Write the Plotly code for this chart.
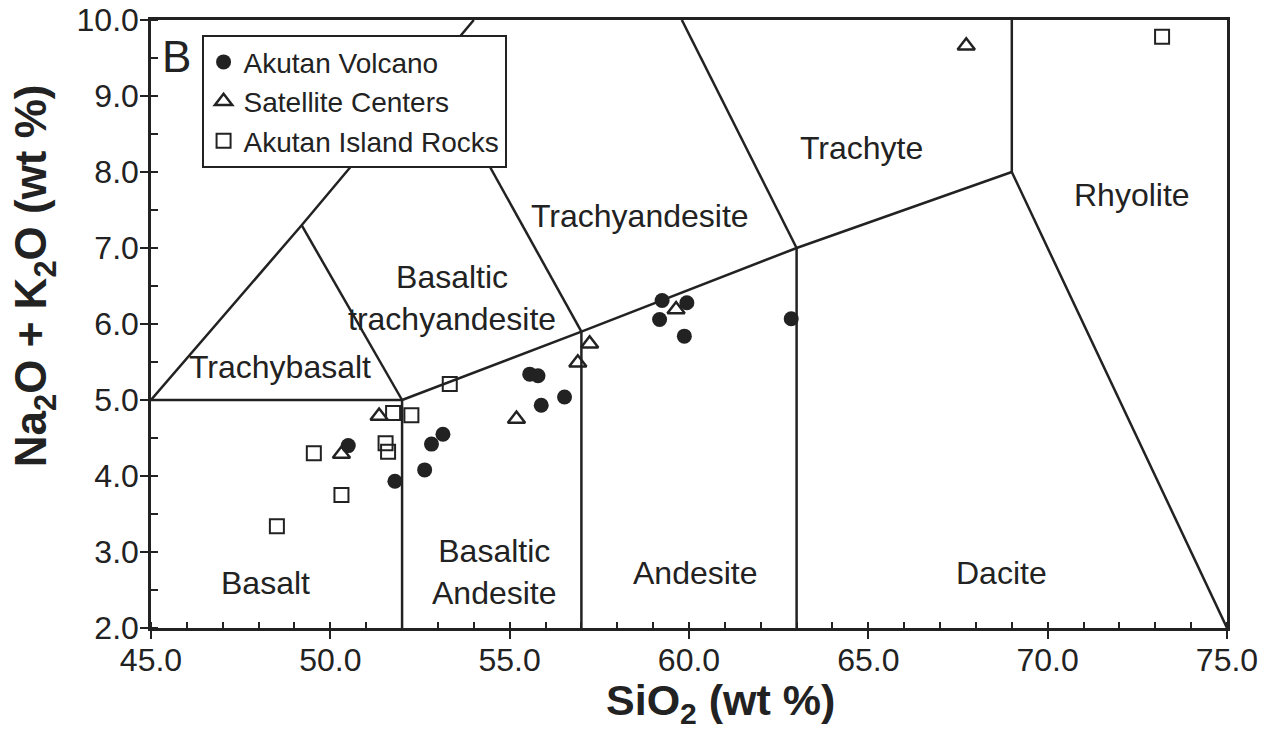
import plotly.graph_objects as go

# ---- data ----
volcano_x = [50.50, 51.80, 52.63, 52.82, 53.14, 55.56, 55.79, 55.88, 56.53, 59.18, 59.25, 59.87, 59.94, 62.85]
volcano_y = [4.40, 3.93, 4.08, 4.42, 4.55, 5.34, 5.32, 4.93, 5.04, 6.06, 6.31, 5.84, 6.28, 6.07]

satellite_x = [50.31, 51.36, 55.19, 56.90, 57.23, 59.64, 67.73]
satellite_y = [4.29, 4.79, 4.75, 5.49, 5.74, 6.19, 9.66]

island_x = [48.51, 49.54, 50.31, 51.54, 51.61, 51.75, 52.26, 53.33, 73.19]
island_y = [3.34, 4.30, 3.75, 4.43, 4.32, 4.83, 4.80, 5.21, 9.78]

# TAS field boundaries (polylines)
boundary_lines = [
    ([45, 52], [5, 5]),
    ([45, 49.2, 54.0], [5, 7.3, 10]),
    ([49.2, 52], [7.3, 5]),
    ([52, 57, 63, 69], [5, 5.9, 7, 8]),
    ([52, 52], [2, 5]),
    ([57, 57], [2, 5.9]),
    ([63, 63], [2, 7]),
    ([53, 57], [9.3, 5.9]),
    ([59.8, 63], [10, 7]),
    ([69, 69], [8, 10]),
    ([69, 75], [8, 2]),
]

field_names = ["Trachybasalt", "Basaltic<br>trachyandesite", "Trachyandesite", "Trachyte",
               "Rhyolite", "Basalt", "Basaltic<br>Andesite", "Andesite", "Dacite"]
field_x = [48.60, 53.39, 58.63, 64.82, 72.35, 48.18, 54.59, 60.19, 68.70]
field_y = [5.43, 6.34, 7.42, 8.32, 7.70, 2.59, 2.74, 2.72, 2.72]

x_range = [45, 75]
y_range = [2, 10]

FONT = "Liberation Sans, Arial, Helvetica, sans-serif"
INK = "#222222"

fig = go.Figure()

bx, by = [], []
for xs, ys in boundary_lines:
    bx += xs + [None]
    by += ys + [None]
fig.add_trace(go.Scatter(x=bx, y=by, mode="lines", line=dict(color=INK, width=2.5),
                         showlegend=False, hoverinfo="skip"))

fig.add_trace(go.Scatter(x=volcano_x, y=volcano_y, mode="markers", name="Akutan Volcano",
                         marker=dict(symbol="circle", size=15, color=INK)))
fig.add_trace(go.Scatter(x=satellite_x, y=satellite_y, mode="markers", name="Satellite Centers",
                         marker=dict(symbol="triangle-up-open", size=15, color=INK,
                                     line=dict(width=2.5, color=INK))))
fig.add_trace(go.Scatter(x=island_x, y=island_y, mode="markers", name="Akutan Island Rocks",
                         marker=dict(symbol="square-open", size=14, color=INK,
                                     line=dict(width=2, color=INK))))

for name, fx, fy in zip(field_names, field_x, field_y):
    fig.add_annotation(x=fx, y=fy, text=name, showarrow=False, xref="x", yref="y",
                       font=dict(family=FONT, size=32, color=INK), align="center")

fig.add_annotation(x=45.72, y=9.52, text="B", showarrow=False, xref="x", yref="y",
                   font=dict(family=FONT, size=44, color=INK))

# axis titles
fig.add_annotation(x=0.5297, y=-0.124, xref="paper", yref="paper", showarrow=False,
                   text="<b>SiO<sub>2</sub> (wt %)</b>", xanchor="center", yanchor="middle",
                   font=dict(family=FONT, size=43, color=INK))
fig.add_annotation(x=-0.108, y=0.58, xref="paper", yref="paper", showarrow=False,
                   text="<b>Na<sub>2</sub>O + K<sub>2</sub>O (wt %)</b>", textangle=-90,
                   xanchor="center", yanchor="middle",
                   font=dict(family=FONT, size=44, color=INK))

axis_common = dict(showgrid=False, zeroline=False, showline=True, linecolor=INK, linewidth=2.5,
                   mirror=True, ticks="outside", ticklen=8, tickwidth=2, tickcolor=INK,
                   automargin=False, ticklabeloverflow="allow",
                   tickformat=".1f", tickfont=dict(family=FONT, size=32, color=INK))

fig.update_layout(
    width=1264, height=731,
    margin=dict(l=151, r=37, t=20, b=103, autoexpand=False),
    paper_bgcolor="white", plot_bgcolor="white",
    font=dict(family=FONT, color=INK),
    xaxis=dict(range=x_range, tick0=45, dtick=5, ticklabelstandoff=-6,
               minor=dict(dtick=1, ticks="inside", ticklen=6, tickwidth=2, tickcolor=INK, showgrid=False),
               **axis_common),
    yaxis=dict(range=y_range, tick0=2, dtick=1, ticklabelstandoff=-5,
               minor=dict(dtick=0.5, ticks="inside", ticklen=7, tickwidth=2, tickcolor=INK, showgrid=False),
               **axis_common),
    xaxis2=dict(range=x_range, overlaying="x", anchor="y", side="bottom", tick0=45, dtick=5,
                ticks="inside", ticklen=8, tickwidth=2, tickcolor=INK, showticklabels=False,
                showline=False, showgrid=False, zeroline=False, automargin=False),
    yaxis2=dict(range=y_range, overlaying="y", anchor="x", side="left", tick0=2, dtick=1,
                ticks="inside", ticklen=8, tickwidth=2, tickcolor=INK, showticklabels=False,
                showline=False, showgrid=False, zeroline=False, automargin=False),
    legend=dict(x=0.047, y=0.975, xanchor="left", yanchor="top",
                bgcolor="white", bordercolor=INK, borderwidth=2,
                font=dict(family=FONT, size=28, color=INK),
                itemwidth=30, tracegroupgap=0),
    showlegend=True,
)

fig.write_html("out.html",
               config={"displayModeBar": False},
               post_script="document.body.style.margin='0';document.body.style.overflow='hidden';")
